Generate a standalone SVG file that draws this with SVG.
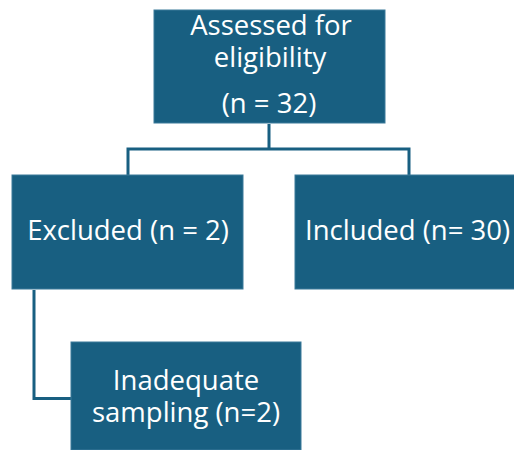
<svg xmlns="http://www.w3.org/2000/svg" width="514" height="450" viewBox="0 0 514 450">
<style>
.box{fill:#185f81;stroke:#3a7a9a;stroke-width:1}
.t{font-family:"Open Sans","Liberation Sans",sans-serif;font-size:27.5px;fill:#ffffff;text-anchor:middle}
.c{fill:none;stroke:#185f81;stroke-width:3}
</style>
<rect width="514" height="450" fill="#ffffff"/>
<g id="connectors">
<path class="c" d="M269,124 V149 M128,175 V149 H409 V175"/>
<path class="c" d="M34,290 V398.5 H71"/>
</g>
<g id="assessed">
<rect class="box" x="154" y="10" width="231" height="113"/>
<text class="t" x="271" y="35">Assessed for</text>
<text class="t" x="270" y="67">eligibility</text>
<text class="t" x="269" y="113">(n = 32)</text>
</g>
<g id="excluded">
<rect class="box" x="12" y="175" width="231" height="114"/>
<text class="t" x="128" y="240">Excluded (n = 2)</text>
</g>
<g id="included">
<rect class="box" x="295" y="175" width="231" height="114"/>
<text class="t" x="305" y="240" style="text-anchor:start">Included (n= 30)</text>
</g>
<g id="inadequate">
<rect class="box" x="71" y="342" width="230" height="108"/>
<text class="t" x="186" y="390">Inadequate</text>
<text class="t" x="186" y="422">sampling (n=2)</text>
</g>
</svg>
